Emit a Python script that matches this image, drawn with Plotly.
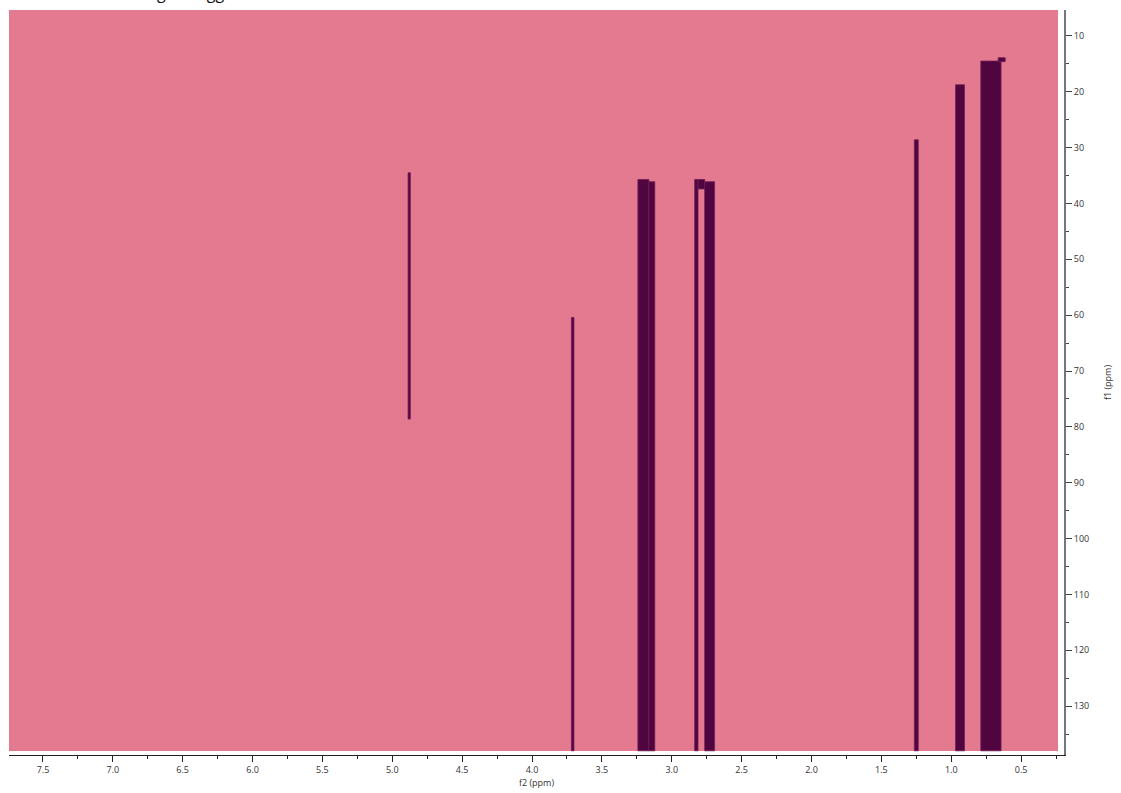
import plotly.graph_objects as go

# 2D spectrum regions: f2 centre (ppm), f2 width (ppm), f1 top and f1 bottom (ppm)
f2_center = [4.879, 3.709, 3.203, 3.143, 2.824, 2.788, 2.729, 1.250, 0.937, 0.716, 0.639]
f2_width = [0.016, 0.018, 0.079, 0.043, 0.024, 0.048, 0.071, 0.028, 0.064, 0.145, 0.050]
f1_top = [34.5, 60.4, 35.7, 36.1, 35.7, 35.7, 36.1, 28.6, 18.75, 14.5, 13.9]
f1_bottom = [78.6, 138.0, 138.0, 138.0, 138.0, 37.4, 138.0, 138.0, 138.0, 138.0, 14.6]

x_ticks = [7.5, 7.0, 6.5, 6.0, 5.5, 5.0, 4.5, 4.0, 3.5, 3.0, 2.5, 2.0, 1.5, 1.0, 0.5]
y_ticks = [10, 20, 30, 40, 50, 60, 70, 80, 90, 100, 110, 120, 130]

heights = [b - t for t, b in zip(f1_top, f1_bottom)]

PINK = "#e47a8f"
PURPLE = "#500541"

fig = go.Figure()
fig.add_trace(go.Bar(
    x=f2_center, y=heights, base=f1_top, width=f2_width,
    marker=dict(color=PURPLE, line=dict(color="#6e1f56", width=0.8)),
    hoverinfo="skip", showlegend=False,
))

fig.update_layout(
    width=1121, height=793,
    margin=dict(l=9, r=55, t=10, b=36),
    paper_bgcolor="white", plot_bgcolor="white",
    font=dict(family="Open Sans, DejaVu Sans, sans-serif", size=9, color="#333333"),
    shapes=[dict(type="rect", xref="paper", yref="paper", x0=0, x1=0.9943,
                 y0=0.00535, y1=1, fillcolor=PINK, line=dict(width=0), layer="below")],
    annotations=[dict(text="Integral suggestions", xref="paper", yref="paper",
                      x=0.1107, y=1.0054, xanchor="left", yanchor="bottom",
                      showarrow=False, font=dict(size=16, color="#111111"))],
    xaxis=dict(
        range=[7.743, 0.193], tickvals=x_ticks, ticktext=[f"{v:.1f}" for v in x_ticks],
        ticks="outside", ticklen=6, tickcolor="#222222", showline=True,
        linecolor="#222222", linewidth=1, showgrid=False, zeroline=False,
        minor=dict(dtick=0.25, tick0=0, ticks="outside", ticklen=3, tickcolor="#222222"),
        title=dict(text="f2 (ppm)", standoff=2, font=dict(size=9)),
    ),
    yaxis=dict(
        range=[138.75, 5.357], side="right", tickvals=y_ticks,
        ticks="outside", ticklen=6, tickcolor="#444444", showline=True,
        linecolor="#777777", linewidth=2, showgrid=False, zeroline=False,
        minor=dict(dtick=5, tick0=0, ticks="outside", ticklen=3, tickcolor="#444444"),
        title=dict(text="f1 (ppm)", standoff=16, font=dict(size=9)),
    ),
)

fig.write_html("out.html")
